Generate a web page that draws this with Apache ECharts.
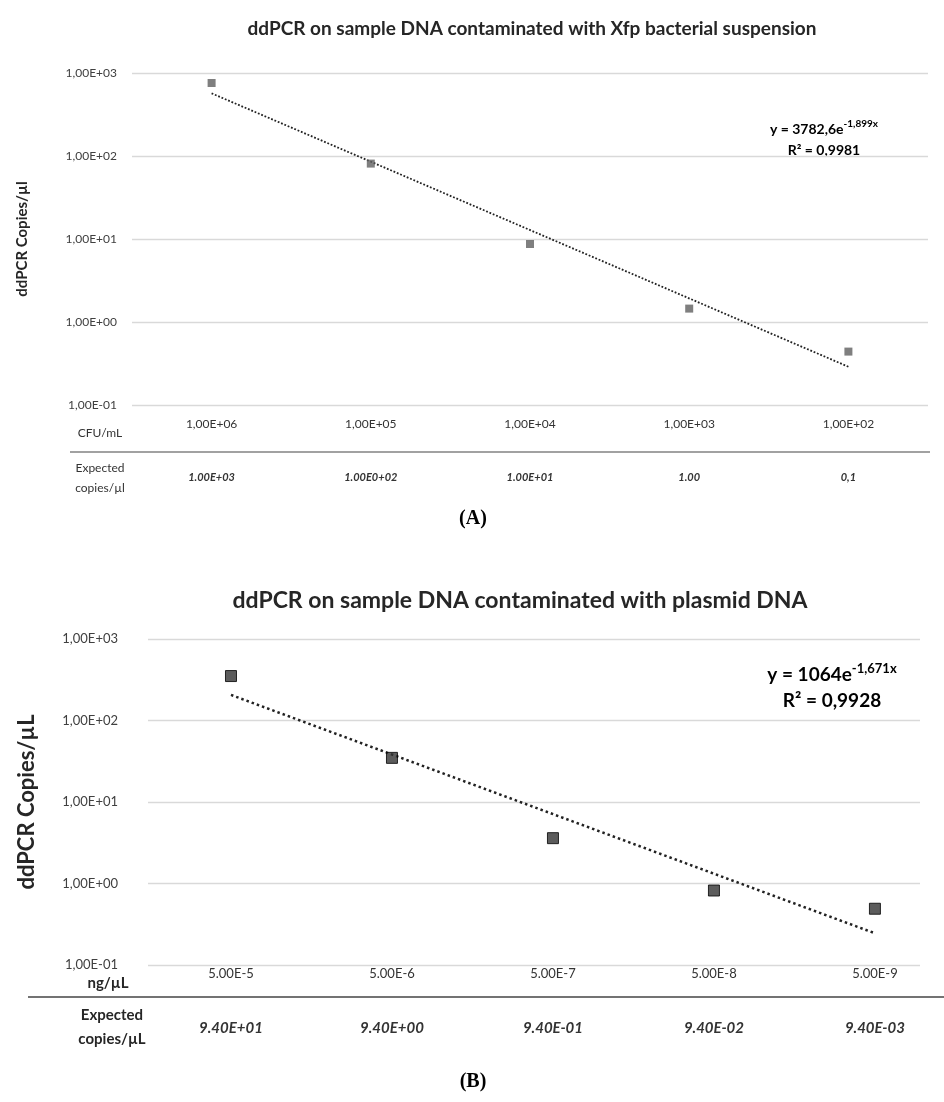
<!DOCTYPE html>
<html>
<head>
<meta charset="utf-8">
<script src="https://cdn.jsdelivr.net/npm/echarts@6/dist/echarts.min.js"></script>
<style>
html,body{margin:0;padding:0;background:#fff;}
#c{width:944px;height:1102px;}
</style>
</head>
<body>
<div id="c"></div>
<script>
// ---- data ----
const yTickLabels = ['1,00E-01','1,00E+00','1,00E+01','1,00E+02','1,00E+03'];
const cfuLabels = ['1,00E+06','1,00E+05','1,00E+04','1,00E+03','1,00E+02'];
const expectedA = ['1.00E+03','1.00E0+02','1.00E+01','1.00','0,1'];
const ddpcrA = [758, 81, 8.7, 1.45, 0.44];
const trendA = [569, 0.289];           // trend line at first and last category
const ngLabels = ['5.00E-5','5.00E-6','5.00E-7','5.00E-8','5.00E-9'];
const expectedB = ['9.40E+01','9.40E+00','9.40E-01','9.40E-02','9.40E-03'];
const ddpcrB = [351, 34.8, 3.6, 0.82, 0.49];
const trendB = [206, 0.245];
const titleA = 'ddPCR on sample DNA contaminated with Xfp bacterial suspension';
const titleB = 'ddPCR on sample DNA contaminated with plasmid DNA';

const FONT = 'Lato, "Open Sans", sans-serif';
const pos = [1,2,3,4,5];
const idx = v => Math.round(v) - 1;
const yFmt = v => yTickLabels[Math.round(Math.log10(v)) + 1];

const chart = echarts.init(document.getElementById('c'), null, {renderer:'canvas'});

function yAxis(grid, fs, margin, name, nameFs, nameGap){
  return {
    gridIndex: grid, type:'log', logBase:10, min:0.1, max:1000,
    axisLine:{show:false}, axisTick:{show:false},
    splitLine:{show:true, lineStyle:{color:'#d9d9d9', width:1.3}},
    axisLabel:{formatter:yFmt, fontFamily:FONT, fontSize:fs, color:'#404040', margin:margin},
    name:name, nameLocation:'middle', nameRotate:90, nameGap:nameGap, nameMoveOverlap:false,
    nameTextStyle:{fontFamily:FONT, fontWeight:'bold', fontSize:nameFs, color:'#262626'}
  };
}
function xAxis(grid, min, max, labels, style, offset, margin){
  return {
    gridIndex: grid, type:'value', min:min, max:max, position:'bottom', offset:offset,
    axisLine:{show:false}, axisTick:{show:false}, splitLine:{show:false},
    axisLabel:Object.assign({customValues:pos, formatter:v=>labels[idx(v)], fontFamily:FONT, color:'#333', margin:margin}, style)
  };
}

const option = {
  animation:false,
  backgroundColor:'#fff',
  title:[
    {text:titleA, left:527, textAlign:'center', top:14, textStyle:{fontFamily:FONT, fontWeight:'bold', fontSize:19, color:'#262626'}},
    {text:titleB, left:515, textAlign:'center', top:584, textStyle:{fontFamily:FONT, fontWeight:'bold', fontSize:23, color:'#262626'}}
  ],
  grid:[
    {left:132, top:73, width:796, height:332},
    {left:148, top:639, width:772, height:326}
  ],
  xAxis:[
    xAxis(0, 0.5, 5.5, cfuLabels, {fontSize:12}, 0, 13),
    xAxis(0, 0.5, 5.5, expectedA, {fontSize:11, fontStyle:'italic', fontWeight:'bold'}, 60, 7),
    xAxis(1, 0.4845, 5.28, ngLabels, {fontSize:13}, 0, 2),
    xAxis(1, 0.4845, 5.28, expectedB, {fontSize:15, fontStyle:'italic', fontWeight:'bold'}, 50, 6)
  ],
  yAxis:[
    yAxis(0, 12, 15, 'ddPCR Copies/µl', 15, 102),
    yAxis(1, 13, 30, 'ddPCR Copies/µL', 22, 110)
  ],
  series:[
    {type:'line', xAxisIndex:0, yAxisIndex:0, data:[[1,trendA[0]],[5,trendA[1]]], symbol:'none',
     lineStyle:{color:'#222', width:1.8, type:[1.8,1.8]}, silent:true, z:2},
    {type:'scatter', xAxisIndex:0, yAxisIndex:0, data:ddpcrA.map((v,i)=>[pos[i],v]), symbol:'rect', symbolSize:8,
     itemStyle:{color:'#5f5f5f'}, z:3},
    {type:'line', xAxisIndex:2, yAxisIndex:1, data:[[1,trendB[0]],[5,trendB[1]]], symbol:'none',
     lineStyle:{color:'#222', width:2.5, type:[2.5,3]}, silent:true, z:2},
    {type:'scatter', xAxisIndex:2, yAxisIndex:1, data:ddpcrB.map((v,i)=>[pos[i],v]), symbol:'rect', symbolSize:11,
     itemStyle:{color:'#333', borderColor:'#000', borderWidth:1}, z:3}
  ],
  graphic:[
    {type:'line', shape:{x1:70, y1:452, x2:930, y2:452}, style:{stroke:'#444', lineWidth:1.2}},
    {type:'line', shape:{x1:28, y1:997, x2:944, y2:997}, style:{stroke:'#444', lineWidth:1.5}},
    {type:'text', x:100, y:433, style:{text:'CFU/mL', font:'12px '+FONT, fill:'#333', textAlign:'center', textVerticalAlign:'middle'}},
    {type:'text', x:100, y:478, style:{text:'Expected\ncopies/µl', font:'12px '+FONT, fill:'#333', textAlign:'center', textVerticalAlign:'middle', lineHeight:20}},
    {type:'text', x:108, y:983, style:{text:'ng/µL', font:'bold 15px '+FONT, fill:'#262626', textAlign:'center', textVerticalAlign:'middle'}},
    {type:'text', x:112, y:1027, style:{text:'Expected\ncopies/µL', font:'bold 15px '+FONT, fill:'#262626', textAlign:'center', textVerticalAlign:'middle', lineHeight:24}},
    {type:'text', x:473, y:519, style:{text:'(A)', font:'bold 20px "Liberation Serif", "DejaVu Serif", serif', fill:'#000', textAlign:'center', textVerticalAlign:'middle'}},
    {type:'text', x:473, y:1082, style:{text:'(B)', font:'bold 20px "Liberation Serif", "DejaVu Serif", serif', fill:'#000', textAlign:'center', textVerticalAlign:'middle'}},
    {type:'text', x:824, y:140, style:{
      text:'{a|y = 3782,6e}{s|-1,899x}\n{a|R² = 0,9981}', textAlign:'center', textVerticalAlign:'middle',
      rich:{a:{fontFamily:FONT, fontWeight:'bold', fontSize:14, color:'#262626', lineHeight:21},
            s:{fontFamily:FONT, fontWeight:'bold', fontSize:10, color:'#262626', verticalAlign:'top', lineHeight:21, padding:[0,0,6,0]}}}},
    {type:'text', x:832, y:688, style:{
      text:'{a|y = 1064e}{s|-1,671x}\n{a|R² = 0,9928}', textAlign:'center', textVerticalAlign:'middle',
      rich:{a:{fontFamily:FONT, fontWeight:'bold', fontSize:19, color:'#262626', lineHeight:26},
            s:{fontFamily:FONT, fontWeight:'bold', fontSize:13, color:'#262626', verticalAlign:'top', lineHeight:26, padding:[0,0,8,0]}}}}
  ]
};
chart.setOption(option);
</script>
</body>
</html>
